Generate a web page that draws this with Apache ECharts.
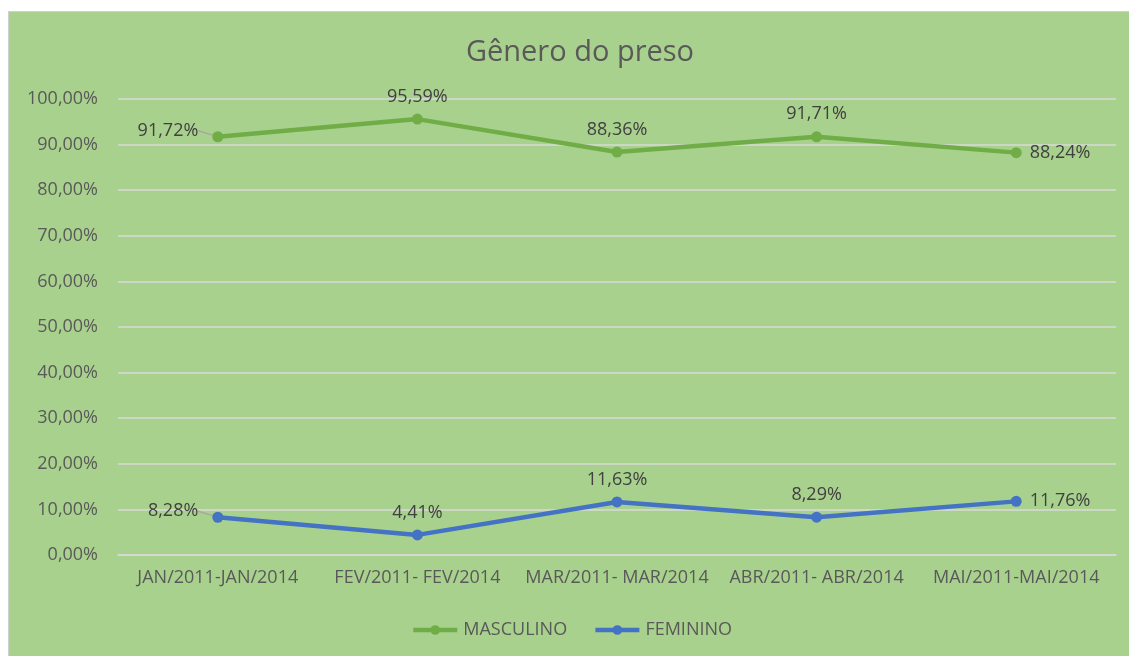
<!DOCTYPE html>
<html>
<head>
<meta charset="utf-8">
<script src="https://cdn.jsdelivr.net/npm/echarts@6/dist/echarts.min.js"></script>
<style>
	html, body { margin: 0; padding: 0; background: #ffffff; }
	#bg { position: absolute; left: 8px; top: 11px; width: 1121px; height: 645px; background: #A9D18E; border-left: 1px solid #d0d0d0; border-top: 1px solid #d0d0d0; }
	#main { position: absolute; left: 0; top: 0; width: 1129px; height: 656px; }
</style>
</head>
<body>
<div id="bg"></div>
<div id="main"></div>
<script>
var categories = ['JAN/2011-JAN/2014', 'FEV/2011- FEV/2014', 'MAR/2011- MAR/2014', 'ABR/2011- ABR/2014', 'MAI/2011-MAI/2014'];
var masculino = [91.72, 95.59, 88.36, 91.71, 88.24];
var feminino = [8.28, 4.41, 11.63, 8.29, 11.76];

var fontName = '"Open Sans", "Noto Sans", sans-serif';

function pct(v) {
	return v.toFixed(2).replace('.', ',') + '%';
}

function buildData(values) {
	var out = [];
	for (var i = 0; i < values.length; i++) {
		var pos = 'top';
		if (i === 0) pos = 'left';
		if (i === values.length - 1) pos = 'right';
		var item = {
			value: values[i],
			label: { position: pos, distance: pos === 'left' ? 14 : 8 }
		};
		if (i === 0) {
			item.labelLine = { show: true, lineStyle: { color: '#A6A6A6', width: 1.5 } };
		}
		out.push(item);
	}
	return out;
}

function makeSeries(name, color, values) {
	return {
		name: name,
		type: 'line',
		data: buildData(values),
		symbol: 'circle',
		symbolSize: 11,
		lineStyle: { color: color, width: 4.5 },
		itemStyle: { color: color },
		labelLayout: function(p) {
			if (p.dataIndex === 0) return { dy: -6 };
			return {};
		},
		label: {
			show: true,
			color: '#404040',
			fontSize: 18,
			fontFamily: fontName,
			formatter: function(p) { return pct(p.value); }
		}
	};
}

var myChart = echarts.init(document.getElementById('main'));
var option = {
	animation: false,
	backgroundColor: 'transparent',
	title: {
		text: 'Gênero do preso',
		left: 575,
		textAlign: 'center',
		top: 33,
		textStyle: { color: '#595959', fontSize: 29, fontWeight: 'normal', fontFamily: fontName }
	},
	legend: {
		bottom: 12,
		left: 406,
		itemWidth: 44,
		itemHeight: 12,
		itemGap: 26,
		lineStyle: { width: 4.5 },
		textStyle: { color: '#595959', fontSize: 18, fontFamily: fontName, padding: [0, 0, 0, 1] },
		data: ['MASCULINO', 'FEMININO']
	},
	grid: {
		left: 118,
		right: 13,
		top: 99,
		bottom: 101
	},
	xAxis: {
		type: 'category',
		data: categories,
		boundaryGap: true,
		axisLine: { lineStyle: { color: '#D9D9D9', width: 1.5 } },
		axisTick: { show: false },
		axisLabel: { color: '#595959', fontSize: 18, fontFamily: fontName, margin: 14, interval: 0 }
	},
	yAxis: {
		type: 'value',
		min: 0,
		max: 100,
		interval: 10,
		axisLine: { show: false },
		axisTick: { show: false },
		splitLine: { lineStyle: { color: '#D9D9D9', width: 1.5 } },
		axisLabel: {
			color: '#595959', fontSize: 18, fontFamily: fontName, margin: 20,
			formatter: function(v) { return pct(v); }
		}
	},
	series: [
		makeSeries('MASCULINO', '#70AD47', masculino),
		makeSeries('FEMININO', '#4472C4', feminino)
	]
};
myChart.setOption(option);
</script>
</body>
</html>
